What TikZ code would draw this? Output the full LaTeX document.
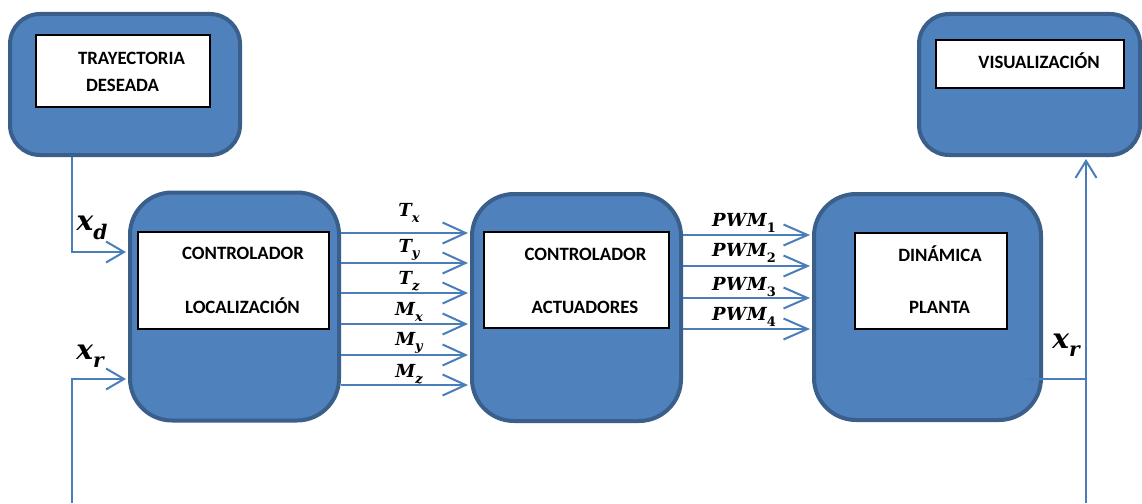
\documentclass[tikz,border=0pt]{standalone}
\usepackage{graphicx}
\usepackage{fontspec}
\setmainfont{Carlito}
\newfontfamily\sigserif{DejaVu Serif}
\usetikzlibrary{arrows.meta}
\definecolor{boxfill}{HTML}{4F81BD}
\definecolor{boxedge}{HTML}{3A5F8B}
\definecolor{wirecol}{HTML}{4A7EBB}
% signal name with a lowered, reduced index
\newcommand{\signame}[2]{#1\raisebox{-0.3em}{\scalebox{0.72}{#2}}}
\tikzset{
  block/.style={draw=boxedge, fill=boxfill, line width=4pt, rounded corners=#1, inner sep=0pt},
  panel/.style={draw=black, fill=white, line width=1.1pt, inner sep=0pt},
  caption/.style={font=\fontsize{18.8}{21}\selectfont\bfseries, anchor=base, inner sep=0pt},
  sig/.style={font=\fontsize{18}{21}\selectfont\sigserif\bfseries\itshape, inner sep=0pt},
  bigsig/.style={font=\fontsize{28}{32}\selectfont\sigserif\bfseries\itshape, inner sep=0pt},
  wire/.style={draw=wirecol, line width=2pt},
  feed/.style={wire, -{Straight Barb[length=#1,width=21pt]}},
  feed/.default=22pt
}
\begin{document}
\begin{tikzpicture}[x=1pt,y=-1pt]
\fill[white] (0,0) rectangle (1142,503);
\useasboundingbox (0,0) rectangle (1142,503);

% outer blocks
\node[block=30pt, minimum width=230pt, minimum height=141pt] (traj) at (125,84.5) {};
\node[block=42pt, minimum width=209pt, minimum height=228pt] (loc) at (234.5,306.5) {};
\node[block=42pt, minimum width=209pt, minimum height=227pt] (act) at (576.5,307.5) {};
\node[block=42pt, minimum width=227pt, minimum height=226pt] (plant) at (927.5,307) {};
\node[block=30pt, minimum width=221pt, minimum height=141pt] (view) at (1029.5,84.5) {};

% inner panels
\node[panel, minimum width=174pt, minimum height=72pt] (trajp) at (123,71) {};
\node[panel, minimum width=191pt, minimum height=97pt] (locp) at (233.5,280.5) {};
\node[panel, minimum width=185pt, minimum height=96pt] (actp) at (576.5,280) {};
\node[panel, minimum width=152pt, minimum height=96pt] (plantp) at (931,281) {};
\node[panel, minimum width=188pt, minimum height=48pt] (viewp) at (1030,64) {};

% panel captions
\node[caption] (t1) at (131.5,64) {TRAYECTORIA};
\node[caption] (t2) at (122.5,91) {DESEADA};
\node[caption] (l1) at (243,259) {CONTROLADOR};
\node[caption] (l2) at (242.5,313) {LOCALIZACIÓN};
\node[caption] (a1) at (585.5,260) {CONTROLADOR};
\node[caption] (a2) at (585,313) {ACTUADORES};
\node[caption] (p1) at (940,261) {DINÁMICA};
\node[caption] (p2) at (939.5,313) {PLANTA};
\node[caption] (v1) at (1039,68) {VISUALIZACIÓN};

% desired trajectory into the localisation controller
\coordinate (xdturn) at (72,252);
\draw[feed=18pt] (traj.south -| xdturn) -- (xdturn) -- ([xshift=-2pt]loc.west |- xdturn);
\node[bigsig] (xd) at (92,228) {\signame{x}{d}};

% measured state fed back
\coordinate (xrbot) at (72,503);
\coordinate (xrturn) at (72,379);
\draw[feed=18pt] (xrbot) -- (xrturn) -- ([xshift=-2pt]loc.west |- xrturn);
\node[bigsig] (xrl) at (90,356) {\signame{x}{r}};

% forces and moments
\foreach \yy/\ly/\lab/\idx [count=\i] in {233/213/T/x, 263/250/T/y, 293/281/T/z, 324/312/M/x, 355/343/M/y, 385/374/M/z}{
  \coordinate (fm\i) at (0,\yy);
  \draw[feed=23pt] (loc.east |- fm\i) -- ([xshift=-2pt]act.west |- fm\i);
  \node[sig] (fml\i) at (409,\ly) {\signame{\lab}{\idx}};
}

% motor commands
\foreach \yy/\ly [count=\i] in {235/223, 266/253, 298/287, 329/317}{
  \coordinate (pw\i) at (0,\yy);
  \draw[feed=24pt] (act.east |- pw\i) -- ([xshift=-2pt]plant.west |- pw\i);
  \node[sig] (pwl\i) at (744,\ly) {P\kern0.5pt W\kern0.5pt\signame{M}{\upshape\i}};
}

% plant output to visualisation
\coordinate (tap) at (1086,379);
\coordinate (vbot) at (1086,503);
\draw[wire] ([xshift=-16pt]plant.east |- tap) -- (tap);
\draw[feed=17pt] (vbot) -- ([yshift=-2pt]view.south -| tap);
\node[bigsig] (xrr) at (1066,345) {\signame{x}{r}};
\end{tikzpicture}
\end{document}
